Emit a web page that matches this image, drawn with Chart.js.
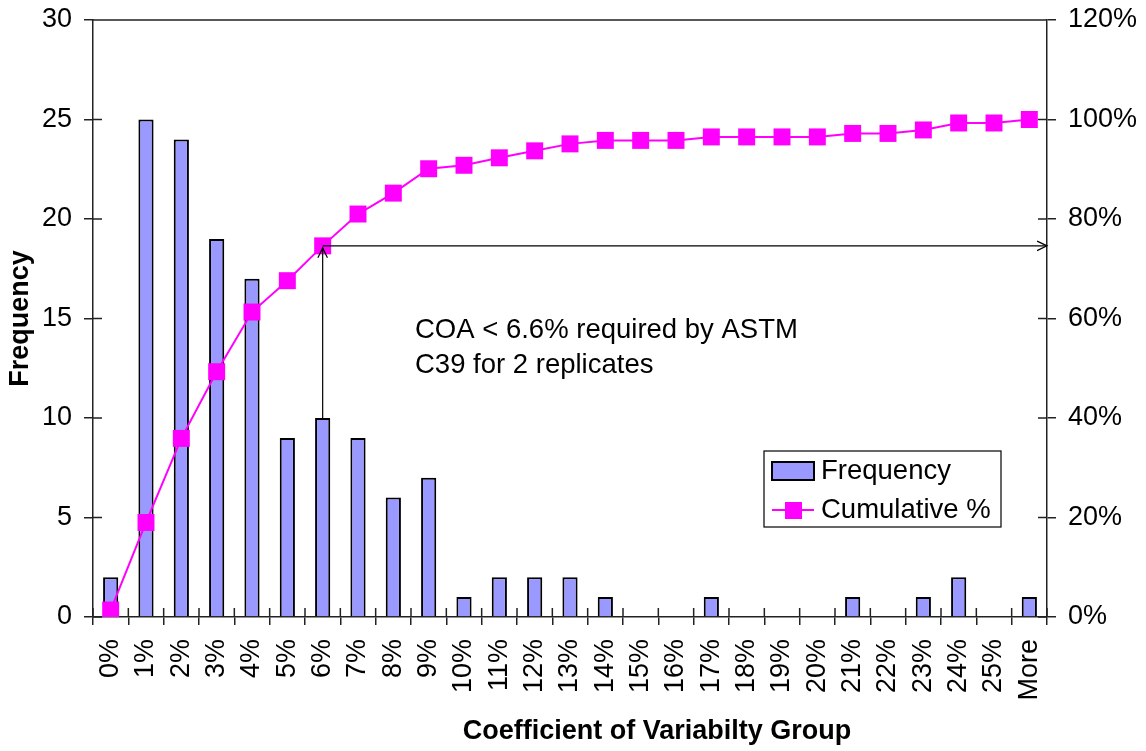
<!DOCTYPE html>
<html>
<head>
<meta charset="utf-8">
<script src="https://cdn.jsdelivr.net/npm/chart.js@4/dist/chart.umd.min.js"></script>
<style>
  html, body { margin: 0; padding: 0; background: #fff; }
  #wrap { width: 1146px; height: 751px; }
</style>
</head>
<body>
<div id="wrap"><canvas id="cv" width="1146" height="751"></canvas></div>
<script>
// categories and values
var groups = ['0%','1%','2%','3%','4%','5%','6%','7%','8%','9%','10%','11%','12%','13%','14%',
              '15%','16%','17%','18%','19%','20%','21%','22%','23%','24%','25%','More'];
var frequency = [2,25,24,19,17,9,10,9,6,7,1,2,2,2,1,0,0,1,0,0,0,1,0,1,2,0,1];
var cumulative = [1.4,19.0,35.9,49.3,61.3,67.6,74.6,81.0,85.2,90.1,90.8,92.3,93.7,95.1,95.8,
                  95.8,95.8,96.5,96.5,96.5,96.5,97.2,97.2,97.9,99.3,99.3,100];
var freqTicks = [0,5,10,15,20,25,30];
var pctTicks = [0,20,40,60,80,100,120];

var FONT = "'Liberation Sans', Arial, sans-serif";
var MAG = '#ff00ff';
var BARC = '#9999ff';

function arrowHead(ctx, x, y, dx, dy) {
  // open V arrow head pointing in direction (dx,dy)
  var len = 11, ang = Math.PI / 7;
  var a = Math.atan2(dy, dx);
  ctx.beginPath();
  ctx.moveTo(x - len * Math.cos(a - ang), y - len * Math.sin(a - ang));
  ctx.lineTo(x, y);
  ctx.lineTo(x - len * Math.cos(a + ang), y - len * Math.sin(a + ang));
  ctx.stroke();
}

var extras = {
  id: 'extras',
  afterDatasetsDraw: function(chart) {
    var ctx = chart.ctx, ca = chart.chartArea;
    var xs = chart.scales.x, ys = chart.scales.y, ys2 = chart.scales.y1;
    var i = groups.indexOf('6%');
    var px = xs.getPixelForValue(i);
    var barTop = ys.getPixelForValue(frequency[i]);
    var py = ys2.getPixelForValue(cumulative[i]);
    ctx.save();
    ctx.strokeStyle = '#000';
    ctx.lineWidth = 1.2;
    // vertical arrow from bar top up to the cumulative point
    ctx.beginPath();
    ctx.moveTo(px, barTop);
    ctx.lineTo(px, py + 2);
    ctx.stroke();
    arrowHead(ctx, px, py + 2, 0, -1);
    // horizontal arrow to right axis
    ctx.beginPath();
    ctx.moveTo(px, py);
    ctx.lineTo(ca.right, py);
    ctx.stroke();
    arrowHead(ctx, ca.right, py, 1, 0);

    // note text
    ctx.fillStyle = '#000';
    ctx.font = '27.5px ' + FONT;
    ctx.textAlign = 'left';
    ctx.textBaseline = 'alphabetic';
    ctx.fillText('COA < 6.6% required by ASTM', 415, 338);
    ctx.fillText('C39 for 2 replicates', 415, 373);

    // legend
    ctx.lineWidth = 1.2;
    ctx.strokeStyle = '#000';
    ctx.fillStyle = '#fff';
    ctx.fillRect(764, 451, 237, 76);
    ctx.strokeRect(764, 451, 237, 76);
    ctx.fillStyle = BARC;
    ctx.fillRect(772, 462, 42, 18);
    ctx.lineWidth = 2;
    ctx.strokeRect(772, 462, 42, 18);
    ctx.strokeStyle = MAG;
    ctx.lineWidth = 2;
    ctx.beginPath();
    ctx.moveTo(772, 510);
    ctx.lineTo(814, 510);
    ctx.stroke();
    ctx.fillStyle = MAG;
    ctx.fillRect(785, 502, 17, 17);
    ctx.fillStyle = '#000';
    ctx.textBaseline = 'middle';
    ctx.fillText('Frequency', 821, 471);
    ctx.fillText('Cumulative %', 821, 510);

    // x axis title (Excel puts it right of the axis centre)
    ctx.font = 'bold 27px ' + FONT;
    ctx.textAlign = 'center';
    ctx.fillText('Coefficient of Variabilty Group', 657, 732);
    ctx.restore();
  },
  afterDraw: function(chart) {
    var ctx = chart.ctx, ca = chart.chartArea;
    var xs = chart.scales.x, ys = chart.scales.y, ys2 = chart.scales.y1;
    ctx.save();
    ctx.strokeStyle = '#222';
    ctx.lineWidth = 1.5;
    ctx.beginPath();
    // top border of plot
    ctx.moveTo(ca.left, ca.top);
    ctx.lineTo(ca.right, ca.top);
    // inner halves of the tick marks
    ys.ticks.forEach(function(t) {
      var y = ys.getPixelForValue(t.value);
      ctx.moveTo(ca.left, y); ctx.lineTo(ca.left + 9, y);
    });
    ys2.ticks.forEach(function(t) {
      var y = ys2.getPixelForValue(t.value);
      ctx.moveTo(ca.right, y); ctx.lineTo(ca.right - 9, y);
    });
    for (var k = 0; k <= groups.length; k++) {
      var x = xs.getPixelForValue(k - 0.5);
      ctx.moveTo(x, ca.bottom); ctx.lineTo(x, ca.bottom - 9);
    }
    ctx.stroke();
    ctx.restore();
  }
};

var tickFont = { family: FONT, size: 27 };
var titleFont = { family: FONT, size: 27, weight: 'bold' };

new Chart(document.getElementById('cv').getContext('2d'), {
  type: 'bar',
  data: {
    labels: groups,
    datasets: [{
      type: 'line',
      label: 'Cumulative %',
      data: cumulative,
      yAxisID: 'y1',
      borderColor: MAG,
      backgroundColor: MAG,
      borderWidth: 2,
      pointStyle: 'rect',
      pointRadius: 12,
      pointBorderWidth: 0,
      pointBackgroundColor: MAG,
      tension: 0,
      order: 0
    }, {
      label: 'Frequency',
      data: frequency,
      yAxisID: 'y',
      backgroundColor: BARC,
      borderColor: '#000',
      borderWidth: 2,
      barPercentage: 0.43,
      categoryPercentage: 1,
      order: 1
    }]
  },
  options: {
    responsive: false,
    animation: false,
    layout: { padding: { top: 20, left: 0, right: 0, bottom: 0 } },
    plugins: { legend: { display: false }, tooltip: { enabled: false } },
    scales: {
      x: {
        offset: true,
        grid: { offset: true, drawOnChartArea: false, tickLength: 8, color: '#222', lineWidth: 1.5 },
        border: { color: '#222', width: 1.5 },
        ticks: { font: tickFont, color: '#000', minRotation: 90, maxRotation: 90, padding: 14, autoSkip: false },
        afterFit: function(s) { s.height = 134; s.paddingLeft = 0; s.paddingRight = 0; }
      },
      y: {
        position: 'left',
        min: 0, max: 30,
        afterBuildTicks: function(s) { s.ticks = freqTicks.map(function(v) { return { value: v }; }); },
        grid: { drawOnChartArea: false, tickLength: 9, color: '#222', lineWidth: 1.5 },
        border: { color: '#222', width: 1.5 },
        ticks: { font: tickFont, color: '#000', padding: 12 },
        title: { display: true, text: 'Frequency', font: titleFont, color: '#000', padding: { top: 4, bottom: 4 } },
        afterFit: function(s) { s.width = 93; s.paddingTop = 0; s.paddingBottom = 0; }
      },
      y1: {
        position: 'right',
        min: 0, max: 120,
        afterBuildTicks: function(s) { s.ticks = pctTicks.map(function(v) { return { value: v }; }); },
        grid: { drawOnChartArea: false, tickLength: 9, color: '#222', lineWidth: 1.5 },
        border: { color: '#222', width: 1.5 },
        ticks: { font: tickFont, color: '#000', padding: 12, callback: function(v) { return v + '%'; } },
        afterFit: function(s) { s.width = 99; s.paddingTop = 0; s.paddingBottom = 0; }
      }
    }
  },
  plugins: [extras]
});
</script>
</body>
</html>
